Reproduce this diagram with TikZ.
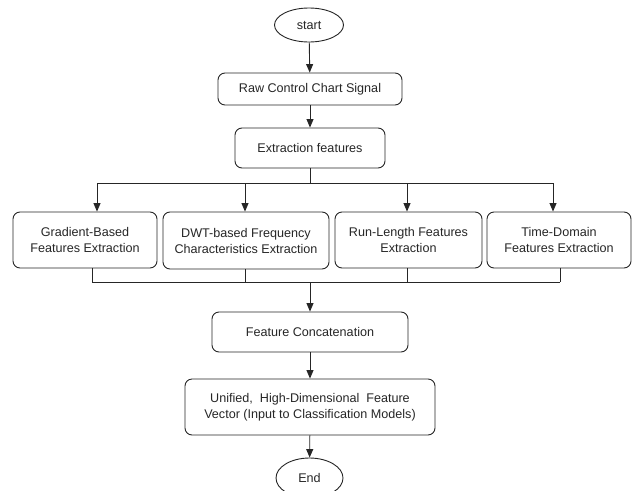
\documentclass[tikz,border=0pt]{standalone}
\usepackage{fontspec}
\setmainfont{Liberation Sans}
\usetikzlibrary{shapes.geometric,arrows.meta}
\begin{document}
\begin{tikzpicture}[x=1pt,y=-1pt,
  every node/.style={font=\fontsize{12.6}{16}\selectfont, text=black!85},
  box/.style={draw=black!85, line width=0.9pt, rounded corners=7pt, align=center, inner sep=0pt},
  term/.style={draw=black!85, line width=0.9pt, ellipse, inner sep=0pt},
  conn/.style={draw=black!85, line width=0.9pt},
  arr/.style={conn, -{Triangle[length=8.5pt,width=7pt]}}]
\useasboundingbox (0,0) rectangle (634,490);
\begin{scope}
\clip (0,0) rectangle (634,490);
\node[term, minimum width=69pt, minimum height=34pt] (start) at (309,25) {start};
\node[box, minimum width=184pt, minimum height=32pt] (raw) at (310,89) {Raw Control Chart Signal};
\node[box, minimum width=150pt, minimum height=40pt] (ext) at (310,148) {Extraction features};
\node[box, minimum width=144pt, minimum height=56pt] (grad) at (85,240) {Gradient-Based\\Features Extraction};
\node[box, minimum width=166pt, minimum height=57pt] (dwt) at (246,240.5) {DWT-based Frequency\\Characteristics Extraction};
\node[box, minimum width=147pt, minimum height=56pt] (run) at (408.5,240) {Run-Length Features\\Extraction};
\node[box, minimum width=144pt, minimum height=56pt] (time) at (559,240) {Time-Domain\\Features Extraction};
\node[box, minimum width=196pt, minimum height=40pt] (feat) at (310,332) {Feature Concatenation};
\node[box, minimum width=250pt, minimum height=56pt] (unif) at (310,407) {Unified, \ High-Dimensional \ Feature\\Vector (Input to Classification Models)};
\node[term, minimum width=67pt, minimum height=40pt] (end) at (309.5,478) {End};

\coordinate (split) at (310,183);
\coordinate (s1) at (97,183);
\coordinate (s2) at (245,183);
\coordinate (s3) at (407,183);
\coordinate (s4) at (553,183);
\coordinate (m1) at (92,282);
\coordinate (m2) at (245,282);
\coordinate (m3) at (407,282);
\coordinate (m4) at (560,282);
\coordinate (merge) at (310,282);

\draw[arr] (start) -- (raw);
\draw[arr] (raw) -- (ext);
\draw[conn] (ext.south) -- (split);
\draw[conn] (s1) -- (s4);
\draw[arr] (s1) -- (s1 |- grad.north);
\draw[arr] (s2) -- (s2 |- dwt.north);
\draw[arr] (s3) -- (s3 |- run.north);
\draw[arr] (s4) -- (s4 |- time.north);
\draw[conn] (m1 |- grad.south) -- (m1);
\draw[conn] (m2 |- dwt.south) -- (m2);
\draw[conn] (m3 |- run.south) -- (m3);
\draw[conn] (m4 |- time.south) -- (m4);
\draw[conn] (m1) -- (m4);
\draw[arr] (merge) -- (feat.north);
\draw[arr] (feat) -- (unif);
\draw[arr] (unif) -- (end);
\end{scope}
\end{tikzpicture}
\end{document}
